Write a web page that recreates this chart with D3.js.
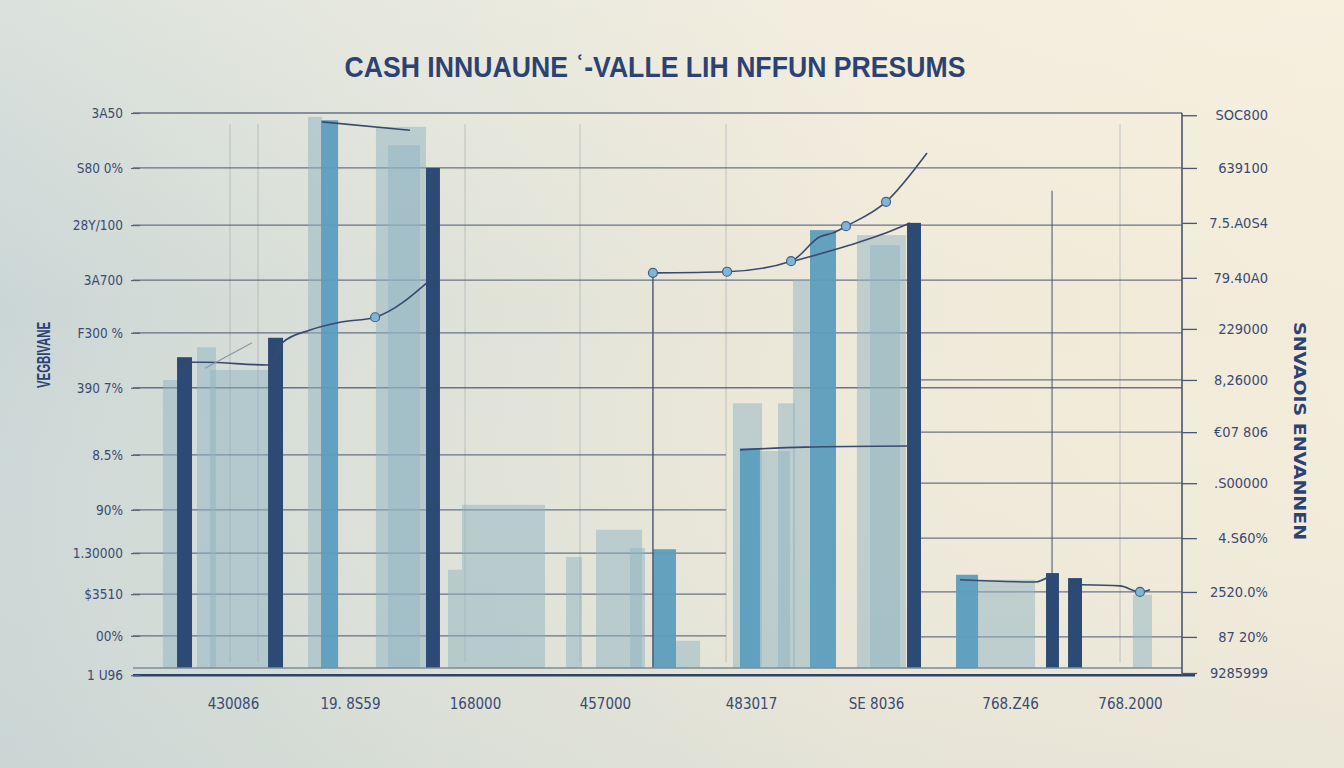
<!DOCTYPE html>
<html><head><meta charset="utf-8">
<script src="https://cdn.jsdelivr.net/npm/d3@7"></script>
<style>
html,body{margin:0;padding:0;overflow:hidden;background:#e8e6da}
svg{display:block}
.lbl{font-family:"Liberation Sans Narrow","DejaVu Sans Condensed","Liberation Sans",sans-serif;fill:#3b4a72}
</style></head>
<body>
<script>
// ---------- DATA ----------
const titleText = "CASH INNUAUNE \u02BF-VALLE LIH NFFUN PRESUMS";
const leftAxisTitle = "VEGBIVANE";
const rightAxisTitle = "SNVAOIS ENVANNEN";

const leftTickValues = [-1.3, 5.8, 13.3, 20.7, 28.5, 38.4, 50.5, 60.4, 69.9, 79.8, 90.1, 100];
const leftTickLabels = ["1 U96", "00%", "$3510", "1.30000", "90%", "8.5%", "390 7%", "F300 %", "3A700", "28Y/100", "S80 0%", "3A50"];

const rightTickValues = [-0.9, 5.6, 13.7, 23.4, 33.3, 42.5, 51.9, 61.1, 70.3, 80.2, 90.1, 99.6];
const rightTickLabels = ["9285999", "87 20%", "2520.0%", "4.S60%", ".S00000", "\u20AC07 806", "8,26000", "229000", "79.40A0", "7.5.A0S4", "639100", "SOC800"];

const bottomTickValues = [0.492, 1.406, 2.383, 3.398, 4.539, 5.516, 6.563, 7.5];
const bottomTickLabels = ["4З0086", "19. 8S59", "168000", "457000", "483017", "SE 8036", "768.Z46", "768.2000"];

// bars: [x0, x1, value] in category units / value units
const paleBars = [
  [-0.055, 0.0625, 51.9], [0.211, 0.359, 57.8], [0.313, 0.766, 53.7],
  [1.078, 1.188, 99.3], [1.609, 2.0, 97.5], [1.703, 1.953, 94.2],
  [2.281, 2.93, 29.4], [2.172, 2.281, 17.7], [3.094, 3.219, 20.0],
  [3.328, 3.688, 24.9], [3.594, 3.711, 21.6], [3.93, 4.141, 4.9],
  [4.398, 4.625, 47.7], [4.609, 4.844, 39.1], [4.75, 4.883, 47.7],
  [4.867, 5.016, 69.9], [5.367, 5.75, 78.0], [5.469, 5.703, 76.2],
  [6.141, 6.758, 15.9], [7.523, 7.672, 13.2]
];
const blueBars = [
  [1.18, 1.313, 98.7], [3.773, 3.953, 21.4], [4.453, 4.609, 39.6],
  [5.0, 5.203, 78.9], [6.141, 6.313, 16.8]
];
const darkBars = [
  [0.055, 0.172, 56.0], [0.766, 0.883, 59.5], [2.0, 2.109, 90.1],
  [5.758, 5.867, 80.2], [6.844, 6.945, 17.1], [7.016, 7.125, 16.2]
];

// line series: [x, value]
const lineA = [[0.0625, 52.8], [0.156, 55.1], [0.273, 55.1], [0.766, 54.6], [0.883, 58.7], [1.094, 60.9], [1.328, 62.3], [1.602, 63.2], [2.031, 69.9]];
const lineB = [[3.773, 71.2], [4.352, 71.4], [4.852, 73.3], [5.078, 77.7], [5.18, 78.4], [5.281, 79.6], [5.594, 84.0], [5.914, 92.8]];
const lineC = [[4.852, 73.2], [5.313, 76.2], [5.547, 78.0], [5.781, 80.2]];
const lineD = [[4.453, 39.3], [4.961, 39.8], [5.781, 40.0]];
const lineE = [[1.188, 98.4], [1.875, 96.9]];
const lineF = [[6.172, 15.9], [6.758, 15.5], [6.891, 16.8]];
const lineG = [[7.125, 15.0], [7.422, 14.8], [7.578, 13.7], [7.656, 14.1]];
const lineH = [[0.273, 54.0], [0.641, 58.6]];
const dots = [[1.602, 63.2], [3.773, 71.2], [4.352, 71.4], [4.852, 73.3], [5.281, 79.6], [5.594, 84.0], [7.578, 13.7]];
const dropLines = [[3.773, 71.2]];
const vGrid = [0.469, 0.6875, 2.305, 3.203, 4.344, 7.422];
const vGridDark = [6.891];

// ---------- CHART ----------
const W = 1344, H = 768;
const svg = d3.select("body").append("svg").attr("width", W).attr("height", H);
const defs = svg.append("defs");
const bg = defs.append("linearGradient").attr("id", "bg").attr("x1", 0).attr("x2", 1).attr("y1", 0).attr("y2", 0);
bg.append("stop").attr("offset", "0%").attr("stop-color", "#cad6d6");
bg.append("stop").attr("offset", "30%").attr("stop-color", "#dde1d8");
bg.append("stop").attr("offset", "65%").attr("stop-color", "#efe9d9");
bg.append("stop").attr("offset", "100%").attr("stop-color", "#f4ecda");
svg.append("rect").attr("width", W).attr("height", H).attr("fill", "url(#bg)");
const vg = defs.append("linearGradient").attr("id", "vg").attr("x1", 0).attr("x2", 0).attr("y1", 0).attr("y2", 1);
vg.append("stop").attr("offset", "0%").attr("stop-color", "#fbf7ea").attr("stop-opacity", 0.35);
vg.append("stop").attr("offset", "40%").attr("stop-color", "#fbf7ea").attr("stop-opacity", 0);
vg.append("stop").attr("offset", "100%").attr("stop-color", "#c9d3d0").attr("stop-opacity", 0.25);
svg.append("rect").attr("width", W).attr("height", H).attr("fill", "url(#vg)");

const x = d3.scaleLinear().domain([0, 8]).range([170, 1194]);
const y = d3.scaleLinear().domain([0, 100]).range([668, 113]);
const xLeft = 133, xRight = 1182;

// title
svg.append("text").attr("class", "lbl").attr("x", 655).attr("y", 77)
  .attr("text-anchor", "middle").attr("font-size", 30).attr("font-weight", 700)
  .style("font-family", "'Liberation Sans','DejaVu Sans',sans-serif")
  .attr("fill", "#2e4272").style("fill", "#2e4272")
  .attr("textLength", 621).attr("lengthAdjust", "spacingAndGlyphs").text(titleText);

// vertical grid
const g = svg.append("g");
g.selectAll(".vg").data(vGrid).join("line")
  .attr("x1", d => x(d)).attr("x2", d => x(d)).attr("y1", y(98)).attr("y2", y(1))
  .attr("stroke", "#9aa3a8").attr("stroke-width", 1).attr("opacity", 0.55);
g.selectAll(".vgd").data(vGridDark).join("line")
  .attr("x1", d => x(d)).attr("x2", d => x(d)).attr("y1", y(86)).attr("y2", y(0))
  .attr("stroke", "#4a5470").attr("stroke-width", 1.2).attr("opacity", 0.85);

// horizontal grid from left ticks
g.selectAll(".hg").data(leftTickValues.filter(v => v > 0)).join("line")
  .attr("x1", xLeft).attr("x2", d => d > 45 ? xRight : x(4.344))
  .attr("y1", d => y(d)).attr("y2", d => y(d))
  .attr("stroke", "#4d5673").attr("stroke-width", 1.3).attr("opacity", 0.8);
// right lower grid
g.selectAll(".hgr").data(rightTickValues.filter(v => v > 0 && v < 56)).join("line")
  .attr("x1", x(5.867)).attr("x2", xRight)
  .attr("y1", d => y(d)).attr("y2", d => y(d))
  .attr("stroke", "#4d5673").attr("stroke-width", 1.3).attr("opacity", 0.8);

// bars
const drawBars = (data, fill, op) => g.append("g").selectAll("rect").data(data).join("rect")
  .attr("x", d => x(d[0])).attr("width", d => x(d[1]) - x(d[0]))
  .attr("y", d => y(d[2])).attr("height", d => y(0) - y(d[2]))
  .attr("fill", fill).attr("opacity", op);
drawBars(paleBars, "#8fb3c1", 0.5);
drawBars(blueBars, "#5c9dbe", 0.95);
drawBars(darkBars, "#2c4a74", 1);

// lines
const line = d3.line().x(d => x(d[0])).y(d => y(d[1])).curve(d3.curveMonotoneX);
[lineA, lineB, lineC, lineD, lineE, lineF, lineG].forEach(l =>
  g.append("path").datum(l).attr("d", line).attr("fill", "none")
    .attr("stroke", "#3a4a6e").attr("stroke-width", 1.6));
g.append("path").datum(lineH).attr("d", line).attr("fill", "none")
  .attr("stroke", "#8b98a4").attr("stroke-width", 1.2);
g.selectAll(".drop").data(dropLines).join("line")
  .attr("x1", d => x(d[0])).attr("x2", d => x(d[0])).attr("y1", d => y(d[1])).attr("y2", y(0))
  .attr("stroke", "#4a5470").attr("stroke-width", 1.4);
g.selectAll(".dot").data(dots).join("circle")
  .attr("cx", d => x(d[0])).attr("cy", d => y(d[1])).attr("r", 4.5)
  .attr("fill", "#80b5d3").attr("stroke", "#3e6288").attr("stroke-width", 1.2);

// baseline
svg.append("line").attr("x1", xLeft).attr("x2", xRight).attr("y1", y(0)).attr("y2", y(0))
  .attr("stroke", "#7d8c98").attr("stroke-width", 1.5);
svg.append("line").attr("x1", xLeft).attr("x2", 1195).attr("y1", y(-1.3)).attr("y2", y(-1.3))
  .attr("stroke", "#2f4368").attr("stroke-width", 2.5);

// left axis
const la = svg.append("g").attr("transform", `translate(140,0)`)
  .call(d3.axisLeft(y).tickValues(leftTickValues).tickFormat((d, i) => leftTickLabels[i]).tickSize(9).tickPadding(8));
la.select(".domain").remove();
la.selectAll("line").attr("stroke", "#5b6478").attr("stroke-width", 1.2);
la.selectAll("text").attr("class", "lbl").attr("font-size", 13.5).attr("fill", "#3b4a72");

// right axis
svg.append("line").attr("x1", xRight).attr("x2", xRight).attr("y1", y(100)).attr("y2", y(-1.5))
  .attr("stroke", "#4a5470").attr("stroke-width", 1.6);
const ra = svg.append("g").attr("transform", `translate(${xRight},0)`)
  .call(d3.axisRight(y).tickValues(rightTickValues).tickFormat((d, i) => rightTickLabels[i]).tickSize(15).tickPadding(0));
ra.select(".domain").remove();
ra.selectAll("line").attr("stroke", "#4d5673").attr("stroke-width", 1.3);
ra.selectAll("text").attr("class", "lbl").attr("font-size", 14.5).attr("fill", "#3b4a72")
  .attr("text-anchor", "end").attr("x", 86);

// bottom axis
const ba = svg.append("g").attr("transform", `translate(0,692)`)
  .call(d3.axisBottom(x).tickValues(bottomTickValues).tickFormat((d, i) => bottomTickLabels[i]).tickSize(0).tickPadding(6));
ba.select(".domain").remove();
ba.selectAll("text").attr("class", "lbl").attr("font-size", 15).attr("fill", "#3b4a72");

// axis titles
svg.append("text").attr("class", "lbl").attr("transform", "translate(50,355) rotate(-90)")
  .attr("text-anchor", "middle").attr("font-size", 18).attr("font-weight", 700)
  .style("font-family", "'Liberation Sans','DejaVu Sans',sans-serif")
  .attr("fill", "#2e4272").style("fill", "#2e4272").attr("textLength", 66).attr("lengthAdjust", "spacingAndGlyphs")
  .text(leftAxisTitle);
svg.append("text").attr("class", "lbl").attr("transform", "translate(1294,431) rotate(90)")
  .attr("text-anchor", "middle").attr("font-size", 16).attr("font-weight", 700)
  .attr("fill", "#2e4272").style("fill", "#2e4272").attr("textLength", 218).attr("lengthAdjust", "spacingAndGlyphs")
  .text(rightAxisTitle);
</script>
</body></html>
